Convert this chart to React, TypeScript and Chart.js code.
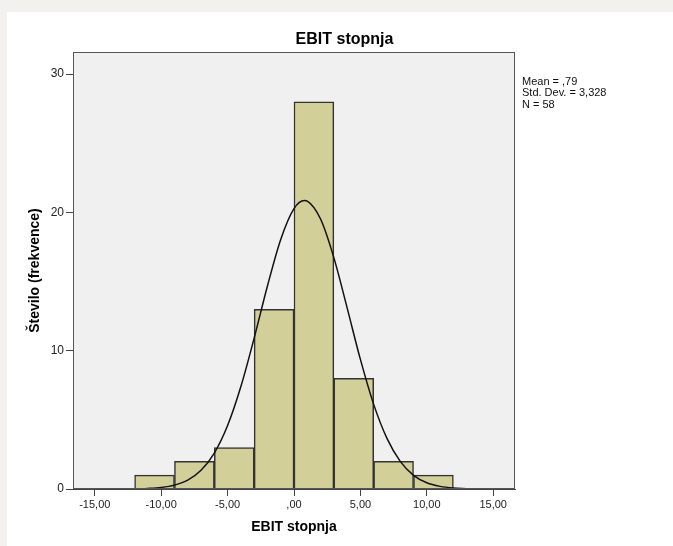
import React, { useEffect, useRef } from "react";
import { Chart, registerables } from "chart.js";

Chart.register(...registerables);

// Histogram bins (centres of 3-unit bins) and frequencies
const binCentres = [-10.5, -7.5, -4.5, -1.5, 1.5, 4.5, 7.5, 10.5];
const frequencies = [1, 2, 3, 13, 28, 8, 2, 1];

// Normal curve
const curveX = [-12, -11, -10, -9, -8, -7, -6, -5, -4, -3, -2, -1, 0, 0.79, 1, 2, 3, 4, 5, 6, 7, 8, 9, 10, 11, 12, 13];
const curveY = [0.01, 0.04, 0.11, 0.28, 0.64, 1.35, 2.6, 4.59, 7.41, 10.91, 14.68, 18.05, 20.28, 20.86, 20.82, 19.52, 16.73, 13.1, 9.37, 6.12, 3.66, 2.0, 0.99, 0.45, 0.19, 0.07, 0.02];

const xTickValues = [-15, -10, -5, 0, 5, 10, 15];
const xTickLabels = ["-15,00", "-10,00", "-5,00", ",00", "5,00", "10,00", "15,00"];
const yTickValues = [0, 10, 20, 30];
const yTickLabels = ["0", "10", "20", "30"];

const statsLines = ["Mean = ,79", "Std. Dev. = 3,328", "N = 58"];

const FONT = "'Liberation Sans', Arial, sans-serif";

export default function App() {
  const ref = useRef<HTMLCanvasElement | null>(null);

  useEffect(() => {
    if (!ref.current) return;
    const plotFrame = {
      id: "plotFrame",
      beforeDraw(chart: any) {
        const { ctx, chartArea: a } = chart;
        ctx.save();
        ctx.fillStyle = "#f0f0f0";
        ctx.fillRect(a.left, a.top, a.right - a.left, a.bottom - a.top);
        ctx.restore();
      },
      afterDraw(chart: any) {
        const { ctx, chartArea: a } = chart;
        ctx.save();
        ctx.strokeStyle = "#555555";
        ctx.lineWidth = 1;
        ctx.strokeRect(Math.round(a.left) + 0.5, Math.round(a.top) + 0.5, Math.round(a.right - a.left) - 1, Math.round(a.bottom - a.top) - 1);
        ctx.restore();
      },
    };

    const chart = new Chart(ref.current, {
      type: "bar",
      data: {
        datasets: [
          {
            type: "line",
            data: curveX.map((x, i) => ({ x, y: curveY[i] })),
            borderColor: "#111111",
            borderWidth: 1.5,
            pointRadius: 0,
            fill: false,
            cubicInterpolationMode: "monotone",
            order: 0,
          } as any,
          {
            type: "bar",
            data: binCentres.map((x, i) => ({ x, y: frequencies[i] })),
            backgroundColor: "#d3cf98",
            borderColor: "#333333",
            borderWidth: 1.5,
            barPercentage: 1,
            categoryPercentage: 1,
            order: 1,
          } as any,
        ],
      },
      options: {
        animation: false,
        responsive: false,
        devicePixelRatio: 1,
        layout: { padding: { left: 16, right: 0, top: 0, bottom: 0 } },
        plugins: {
          legend: { display: false },
          tooltip: { enabled: false },
          title: {
            display: true,
            text: "EBIT stopnja",
            color: "#000",
            font: { family: FONT, size: 16, weight: "bold" },
            padding: { top: 30.4, bottom: 2.4 },
          },
        },
        scales: {
          x: {
            type: "linear",
            position: "bottom",
            min: -16.64,
            max: 16.64,
            offset: false,
            afterBuildTicks: (s: any) => {
              s.ticks = xTickValues.map((v) => ({ value: v }));
            },
            afterFit: (s: any) => {
              s.height = 57;
            },
            ticks: {
              color: "#222",
              font: { family: FONT, size: 11 },
              padding: 2,
              maxRotation: 0,
              autoSkip: false,
              callback: (v: any) => xTickLabels[xTickValues.indexOf(Number(v))] ?? "",
            },
            grid: { display: true, offset: false, drawOnChartArea: false, drawTicks: true, tickLength: 7, tickColor: "#444", tickWidth: 1 },
            border: { display: true, color: "#444", width: 1 },
            title: {
              display: true,
              text: "EBIT stopnja",
              color: "#000",
              font: { family: FONT, size: 14, weight: "bold" },
              padding: { top: 0, bottom: 10 },
            },
          },
          y: {
            type: "linear",
            position: "left",
            min: 0,
            max: 31.6,
            afterBuildTicks: (s: any) => {
              s.ticks = yTickValues.map((v) => ({ value: v }));
            },
            afterFit: (s: any) => {
              s.width = 57;
            },
            ticks: {
              color: "#222",
              font: { family: FONT, size: 12 },
              padding: 2,
              callback: (v: any) => yTickLabels[yTickValues.indexOf(Number(v))] ?? "",
            },
            grid: { display: true, offset: false, drawOnChartArea: false, drawTicks: true, tickLength: 7, tickColor: "#444", tickWidth: 1 },
            border: { display: true, color: "#444", width: 1 },
            title: {
              display: true,
              text: "Število (frekvence)",
              color: "#000",
              font: { family: FONT, size: 14, weight: "bold" },
              padding: { top: 11, bottom: 0 },
            },
          },
          side: {
            type: "linear",
            position: "right",
            display: true,
            afterFit: (s: any) => {
              s.width = 158;
            },
            ticks: { display: false },
            grid: { display: false, drawTicks: false },
            border: { display: false },
          },
        },
      } as any,
      plugins: [plotFrame],
    });
    return () => chart.destroy();
  }, []);

  return (
    <div style={{ position: "fixed", left: 0, top: 0, width: 673, height: 546, background: "#f2f1ee", overflow: "hidden" }}>
      <div style={{ position: "absolute", left: 7, top: 12, right: 0, bottom: 0, background: "#ffffff" }} />
      <canvas ref={ref} width={673} height={546} style={{ position: "absolute", left: 0, top: 0, width: 673, height: 546 }} />
      <div
        style={{
          position: "absolute",
          left: 522,
          top: 76,
          fontFamily: FONT,
          fontSize: 11,
          lineHeight: "11.3px",
          color: "#111",
          whiteSpace: "pre",
        }}
      >
        {statsLines.map((l, i) => (
          <div key={i}>{l}</div>
        ))}
      </div>
    </div>
  );
}
